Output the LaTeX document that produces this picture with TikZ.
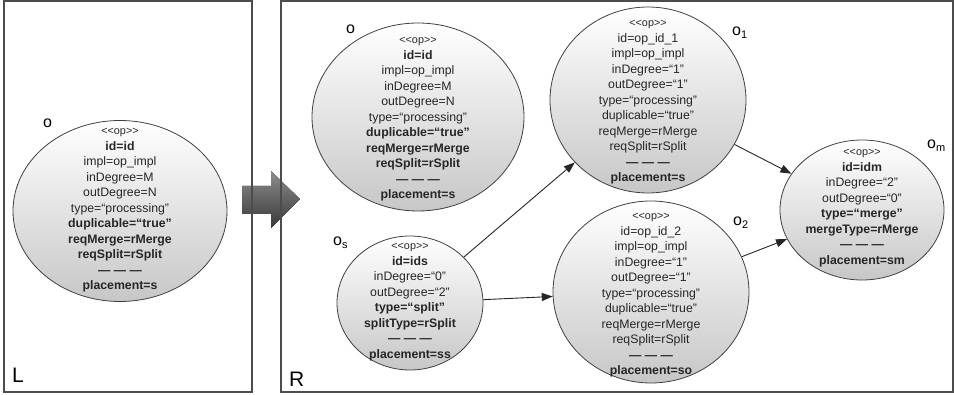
\documentclass[tikz,border=0pt]{standalone}
\usepackage{fontspec}
\setmainfont{Liberation Sans}
\usetikzlibrary{shapes.geometric, arrows.meta}
\tikzset{
    panel/.style={draw=black!70, line width=1.2pt},
    opnode/.style={ellipse, draw=black!75, line width=0.8pt, top color=white, middle color=black!4, bottom color=black!22, inner sep=0pt},
    optext/.style={align=center, text=black!85, font=\fontsize{12.3}{15.5}\selectfont},
    oplabel/.style={anchor=base west, inner sep=0pt, font=\fontsize{16}{16}\selectfont},
    flow/.style={-{Triangle[length=11pt,width=8pt]}, line width=0.9pt, draw=black!85},
}
\newcommand\stereo{{\fontsize{10.8}{12}\selectfont <{}<op>{}>}}
\newcommand\sepline{\textbf{— — —}}
\newcommand\lsub[1]{\raisebox{-0.35ex}{\fontsize{11}{11}\selectfont #1}}

\begin{document}
\begin{tikzpicture}[x=1pt, y=-1pt]
    \useasboundingbox (0,0) rectangle (954,395);

    \fill[top color=black!45, bottom color=black!78] (242,186) -- (271,186) -- (271,171) -- (300,199) -- (271,228) -- (271,214) -- (242,214) -- cycle;

    \draw[panel] (4,1) rectangle (252,392);
    \draw[panel] (281,1) rectangle (953,392);
    \node[anchor=base west, inner sep=0pt, font=\fontsize{21}{21}\selectfont] (panL) at (12,383) {L};
    \node[anchor=base west, inner sep=0pt, font=\fontsize{21}{21}\selectfont] (panR) at (289,387) {R};

    \node[opnode, minimum width=214, minimum height=181] (oL) at (120, 211) {};
    \node[opnode, minimum width=212, minimum height=188] (oR) at (418, 117) {};
    \node[opnode, minimum width=196, minimum height=186] (o1) at (648, 100) {};
    \node[opnode, minimum width=164, minimum height=140] (om) at (862, 210) {};
    \node[opnode, minimum width=146, minimum height=134] (os) at (410, 303) {};
    \node[opnode, minimum width=196, minimum height=182] (o2) at (651, 292) {};

    \node[optext] (txtL) at (120, 210.5) {\stereo\\ \textbf{id=id}\\ impl=op\_impl\\ inDegree=M\\ outDegree=N\\ type=“processing”\\ \textbf{duplicable=“true”}\\ \textbf{reqMerge=rMerge}\\ \textbf{reqSplit=rSplit}\\ \sepline\\ \textbf{placement=s}};
    \node[optext] (txtR) at (418, 119.5) {\stereo\\ \textbf{id=id}\\ impl=op\_impl\\ inDegree=M\\ outDegree=N\\ type=“processing”\\ \textbf{duplicable=“true”}\\ \textbf{reqMerge=rMerge}\\ \textbf{reqSplit=rSplit}\\ \sepline\\ \textbf{placement=s}};
    \node[optext] (txt1) at (648, 102.5) {\stereo\\ id=op\_id\_1\\ impl=op\_impl\\ inDegree=“1”\\ outDegree=“1”\\ type=“processing”\\ duplicable=“true”\\ reqMerge=rMerge\\ reqSplit=rSplit\\ \sepline\\ \textbf{placement=s}};
    \node[optext] (txtm) at (862, 208) {\stereo\\ \textbf{id=idm}\\ inDegree=“2”\\ outDegree=“0”\\ \textbf{type=“merge”}\\ \textbf{mergeType=rMerge}\\ \sepline\\ \textbf{placement=sm}};
    \node[optext] (txts) at (410, 302) {\stereo\\ \textbf{id=ids}\\ inDegree=“0”\\ outDegree=“2”\\ \textbf{type=“split”}\\ \textbf{splitType=rSplit}\\ \sepline\\ \textbf{placement=ss}};
    \node[optext] (txt2) at (651, 295.5) {\stereo\\ id=op\_id\_2\\ impl=op\_impl\\ inDegree=“1”\\ outDegree=“1”\\ type=“processing”\\ duplicable=“true”\\ reqMerge=rMerge\\ reqSplit=rSplit\\ \sepline\\ \textbf{placement=so}};

    \node[oplabel] (labL) at (43, 128) {o};
    \node[oplabel] (labR) at (346, 34) {o};
    \node[oplabel] (lab1) at (732, 36) {o\lsub{1}};
    \node[oplabel] (labm) at (927, 149) {o\lsub{m}};
    \node[oplabel] (lab2) at (733, 226) {o\lsub{2}};
    \node[oplabel] (labs) at (333, 246) {o\lsub{s}};

    \draw[flow] (os) -- (o1);
    \draw[flow] (os) -- (o2);
    \draw[flow] (o1) -- (om);
    \draw[flow] (o2) -- (om);
\end{tikzpicture}
\end{document}
